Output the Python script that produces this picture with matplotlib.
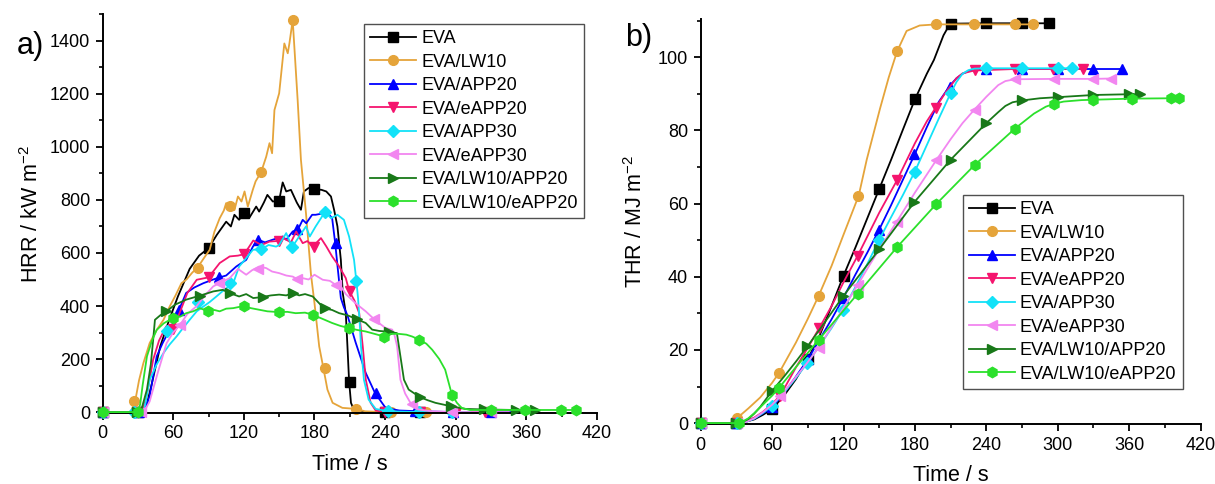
import matplotlib.pyplot as plt
from matplotlib.lines import Line2D
from matplotlib.ticker import MultipleLocator

plt.rcParams['font.family'] = ['Liberation Sans', 'DejaVu Sans']
plt.rcParams['mathtext.fontset'] = 'custom'
plt.rcParams['mathtext.rm'] = 'Liberation Sans'
plt.rcParams['mathtext.default'] = 'regular'

labels = ['EVA', 'EVA/LW10', 'EVA/APP20', 'EVA/eAPP20', 'EVA/APP30',
          'EVA/eAPP30', 'EVA/LW10/APP20', 'EVA/LW10/eAPP20']
colors = ['#000000', '#E5A43A', '#0000FF', '#F5146E', '#12E2F8',
          '#F286F0', '#187818', '#2BE02B']
markers = ['s', 'o', '^', 'v', 'D', '<', '>', 'h']
msizes = [6.5, 7, 7.5, 7.5, 6, 7.5, 7.5, 7.5]

# ---------------- HRR (kW m-2) vs time (s) ----------------
hrr_t_eva = [0, 33, 36, 42, 49, 56, 64, 74, 82, 90, 97, 105, 109, 112, 116, 120, 125, 130.5, 133, 137, 140,
             144.6, 150, 153, 156, 160, 165, 168.5, 171, 175, 180, 186, 190, 194, 196.7, 199.5, 202.4, 204,
             206.6, 208, 209.4, 211, 214, 220, 240, 270, 295]
hrr_eva = [0, 0, 0, 110, 248, 340, 436, 540, 590, 618, 668, 718, 700, 744, 725, 750, 735, 775, 756, 790, 819,
           794, 798, 866, 832, 838, 790, 763, 832, 845, 841, 838, 832, 813, 762, 700, 574, 449,
           373, 248, 116, 35, 3, 0, 0, 0, 0]

hrr_t_lw10 = [0, 24, 27.7, 31, 34.7, 40, 46, 51.8, 57, 62, 67, 71.3, 76, 81, 86, 91, 95, 99.5, 103, 105, 108,
              112, 115, 118, 120.6, 123.4, 127.6, 130, 134.7, 139, 141.8, 144, 146, 150, 154.4, 157.3, 158.7,
              161.5, 165.7, 168.5, 172.8, 177, 180, 184, 187.7, 191, 195.4, 203.7, 215.5, 223, 240, 270, 279]
hrr_lw10 = [0, 0, 41, 120, 185, 260, 310, 348, 398, 440, 486, 500, 525, 547, 580, 612, 680, 731, 760, 788, 779,
            762, 813, 794, 832, 775, 838, 870, 905, 963, 1014, 976, 1139, 1202, 1390, 1353, 1390,
            1478, 1177, 951, 749, 520, 411, 248, 163, 85, 35, 16, 12, 3, 0, 0, 0]

hrr_t_app20 = [0, 35, 40, 46, 51, 57, 64.4, 71, 78, 85.6, 94, 99.5, 105, 113.6, 122, 127.7, 132, 138, 144.5,
               153, 156, 161.5, 166, 170, 173, 178, 181, 188, 192.5, 195, 197.6, 199.6, 202.4, 205, 208,
               215, 223.5, 231.4, 240.4, 252, 270, 300, 330, 355]
hrr_app20 = [0, 0, 60, 210, 260, 310, 380, 449, 470, 486, 500, 508, 515, 549, 574, 624, 650, 640, 650,
             662, 650, 681, 689, 725, 712, 744, 744, 750, 744, 731, 637, 549, 430, 395, 365,
             262, 148, 72, 16, 6, 3, 0, 0, 0]

hrr_t_eapp20 = [0, 33, 37, 43, 48, 54, 60, 66, 72, 80, 90, 99.5, 108, 115, 120, 124, 128, 135, 141.8, 148,
                152, 156, 160, 164.5, 167, 170, 174, 178.5, 182, 185.5, 190, 195, 201, 206.6, 209.4, 214,
                218, 221, 223.6, 227.7, 232, 240, 270, 300, 325]
hrr_eapp20 = [0, 0, 50, 198, 270, 323, 315, 380, 449, 499, 508, 562, 587, 590, 595, 620, 647, 630, 643, 645,
              660, 650, 640, 681, 660, 637, 645, 624, 640, 656, 625, 587, 549, 505, 458, 420,
              373, 248, 122, 35, 6, 0, 0, 0, 0]

hrr_t_app30 = [0, 35, 40, 46, 51.8, 57, 63, 68, 74, 80, 85.6, 91, 96.7, 103, 111, 116, 121, 127.7, 134.7,
               141, 147.4, 150, 156, 161, 167, 172.8, 176, 181, 185.5, 189, 194, 199.5, 205, 209.4, 213.6,
               215.6, 217, 218.5, 219.5, 222, 226, 232, 242.7, 270, 300, 312]
hrr_app30 = [0, 0, 122, 180, 223, 255, 286, 315, 348, 380, 398, 415, 436, 460, 486, 549, 575, 612, 614,
             630, 624, 630, 675, 622, 662, 700, 662, 700, 731, 756, 731, 744, 725, 662, 574,
             493, 430, 330, 248, 122, 47, 12, 3, 0, 0, 0]

hrr_t_eapp30 = [0, 35, 40, 47, 54.4, 60, 65.7, 72, 80, 87, 94, 101, 108, 115, 122, 127, 133, 139, 144, 150,
                156, 161.5, 166, 170, 175, 180, 187, 193, 198, 203, 206.6, 215, 223.5, 230.5, 235, 240.4,
                246, 248, 250.2, 253, 257, 261.5, 268, 280, 300, 330, 345]
hrr_eapp30 = [0, 0, 40, 150, 260, 300, 328, 370, 400, 440, 474, 490, 505, 540, 518, 535, 549, 543, 530, 524,
              515, 511, 500, 505, 500, 518, 499, 495, 480, 470, 445, 410, 380, 351, 335, 317,
              311, 290, 248, 122, 70, 35, 10, 3, 0, 0, 0]

hrr_t_lw10app20 = [0, 30, 33, 37.7, 41, 43, 44.5, 49, 54.4, 61.5, 71, 82.6, 94, 102, 108, 116, 122, 128, 136,
                   143, 150, 156, 161.5, 167, 172, 178.5, 183, 188, 195, 201, 208, 215.7, 223.5, 229, 235,
                   240.4, 246, 250, 253, 256, 260, 265, 270, 276, 282.7, 296, 308, 325, 350, 370]
hrr_lw10app20 = [0, 0, 10, 85, 180, 273, 348, 365, 380, 405, 424, 439, 455, 461, 449, 436, 445, 430, 434,
                 440, 443, 440, 449, 440, 445, 436, 415, 392, 385, 373, 365, 351, 336, 311, 306,
                 304, 300, 298, 210, 122, 85, 70, 56, 45, 35, 22, 12, 10, 8, 8]

hrr_t_lw10eapp20 = [0, 30, 32, 34, 37.7, 42, 46, 52, 60, 66, 71, 77, 82.6, 89.6, 95, 99.5, 105, 111, 119.8,
                    126, 133, 140, 150, 157, 164, 172, 178.5, 185, 195, 202, 209.4, 216, 223.5, 231, 239,
                    245, 251.6, 258, 263, 269, 275, 280, 286, 291, 296.7, 301, 305, 312, 330, 360, 390, 402]
hrr_lw10eapp20 = [0, 0, 30, 100, 210, 270, 310, 335, 355, 360, 373, 380, 392, 380, 385, 380, 390, 392, 400,
                  392, 386, 380, 377, 378, 373, 375, 367, 355, 336, 325, 317, 310, 304, 295, 285,
                  295, 295, 292, 285, 273, 258, 235, 200, 160, 66, 35, 16, 8, 8, 8, 8, 8]

# marker positions read on the HRR curves
hrr_mt_eva = [0, 30, 90, 120, 150, 180, 210, 240, 270]
hrr_m_eva = [0, 0, 620, 752, 796, 842, 115, 0, 0]
hrr_mt_lw10 = [0, 26.7, 80.7, 108, 135, 161.5, 188.6, 215.6, 245, 275]
hrr_m_lw10 = [0, 40, 545, 779, 905, 1478, 165, 12, 0, 0]
hrr_mt_app20 = [0, 31, 65, 99, 132, 165, 198, 232, 265, 298, 330]
hrr_m_app20 = [0, 0, 386, 510, 650, 689, 639, 72, 3, 0, 0]
hrr_mt_eapp20 = [0, 30, 60, 90, 120, 150, 180, 210, 240, 270, 300, 325]
hrr_m_eapp20 = [0, 0, 313, 508, 595, 645, 622, 457, 0, 0, 0, 0]
hrr_mt_app30 = [0, 27, 54.4, 81.4, 108, 134.7, 161, 189, 215.6, 242.7, 269, 297]
hrr_m_app30 = [0, 0, 304, 417, 486, 614, 622, 756, 493, 3, 0, 0]
hrr_mt_eapp30 = [0, 33, 65.7, 99, 132, 165, 198, 230.5, 263, 297, 330]
hrr_m_eapp30 = [0, 0, 328, 485, 540, 500, 480, 351, 30, 0, 0]
hrr_mt_lw10app20 = [0, 29, 54, 82.6, 108, 136, 161.5, 189, 215.7, 243, 270, 296, 324, 351, 367]
hrr_m_lw10app20 = [0, 0, 380, 439, 449, 434, 449, 392, 351, 302, 56, 22, 12, 8, 8]
hrr_mt_lw10eapp20 = [0, 30, 60, 89.6, 119.8, 150, 178.5, 209.4, 239, 269, 296.7, 330, 359, 389, 402]
hrr_m_lw10eapp20 = [0, 0, 355, 380, 400, 377, 367, 317, 285, 273, 66, 8, 8, 8, 8]

# ---------------- THR (MJ m-2) vs time (s) ----------------
thr_t_eva = [0, 30, 36, 45, 52, 60, 70, 80, 90, 100, 110, 120, 130, 140, 150, 160, 170, 180, 190, 196, 204,
             208, 211, 240, 270, 295]
thr_eva = [0, 0, 0.2, 1.0, 2.2, 3.8, 7.5, 12, 17.5, 24, 32, 40.3, 48, 56, 64, 72, 80.3, 88.5, 95.5, 99.3, 106,
           108.3, 109.2, 109.3, 109.3, 109.3]
thr_t_lw10 = [0, 25, 30, 40, 50, 60, 66, 80, 90, 99, 110, 120, 132.8, 139.5, 150.7, 158, 165, 173, 184, 198,
              230, 264, 279]
thr_lw10 = [0, 0, 1.2, 4, 7, 11, 13.8, 22, 28.5, 34.7, 43, 51.5, 62.2, 72, 86, 94.5, 101.6, 107.2, 108.7, 109,
            109, 109, 109]
thr_t_app20 = [0, 30, 36, 45, 52, 60, 70, 80, 90, 100, 110, 120, 130, 140, 150, 160, 170, 180, 190, 200, 210,
               215, 220, 225, 230, 240, 270, 300, 330, 355]
thr_app20 = [0, 0, 0.2, 1.2, 2.6, 4.3, 8.2, 12.7, 17.4, 22.9, 28.4, 34.3, 40.6, 46.6, 52.9, 59.6, 66.6, 73.6,
             80.9, 87.8, 92.5, 94.3, 95.5, 96.2, 96.6, 96.8, 96.8, 96.8, 96.8, 96.8]
thr_t_eapp20 = [0, 30, 36, 45, 52, 60, 67, 80, 90, 100, 110, 120, 132, 140, 150, 165, 180, 190, 198, 205, 210,
                215, 220, 230, 264, 296, 321]
thr_eapp20 = [0, 0, 0.3, 1.5, 3, 5.2, 7.6, 15.2, 20.6, 26.2, 32, 38.5, 45.8, 51, 57.5, 66.4, 76.5, 82.5, 86.5,
              90, 92.2, 94.3, 95.6, 96.4, 96.8, 96.8, 96.8]
thr_t_app30 = [0, 30, 38, 45, 52, 60, 70, 80, 90, 100, 110, 120, 130, 140, 150, 160, 170, 180, 190, 200, 210,
               215, 220, 225, 230, 240, 270, 300, 312]
thr_app30 = [0, 0, 0.3, 1.2, 2.7, 4.7, 8.3, 12.3, 16.6, 21.2, 26, 31.2, 37.2, 43.5, 50.1, 56.3, 62.4, 68.8, 76,
             83.2, 90.2, 93.3, 95.5, 96.5, 96.9, 97, 97, 97, 97]
thr_t_eapp30 = [0, 30, 38, 45, 52, 60, 67, 80, 90, 99, 110, 120, 132, 140, 150, 165, 180, 198, 210, 220, 230,
                240, 250, 256, 264, 297, 330, 345]
thr_eapp30 = [0, 0, 0.3, 1.3, 2.9, 5, 7.4, 12.6, 16.7, 20.6, 26.3, 31.5, 37.8, 42.2, 47.5, 55.2, 63, 71.9,
              77.6, 82, 85.7, 89.2, 92.4, 93.5, 94, 94.1, 94.1, 94.2]
thr_t_lw10app20 = [0, 30, 34, 40, 45, 50, 60, 70, 80, 90, 100, 120, 150, 180, 210, 240, 250, 256, 262, 270,
                   285, 300, 330, 360, 370]
thr_lw10app20 = [0, 0, 0.1, 1.1, 2.6, 4.4, 8.8, 12.7, 16.8, 21.1, 25.6, 34.8, 47.5, 60.6, 72, 82, 85, 86.7,
                 87.7, 88.2, 88.8, 89.1, 89.7, 89.9, 89.9]
thr_t_lw10eapp20 = [0, 30, 34, 40, 45, 50, 60, 66, 80, 99, 132, 165, 198, 230, 264, 280, 290, 297, 305, 320,
                    330, 362, 395, 402]
thr_lw10eapp20 = [0, 0, 0.2, 1.3, 2.7, 4.3, 7.5, 9.7, 15.3, 22.7, 35.4, 48.1, 59.9, 70.5, 80.5, 84.6, 86.5,
                  87.3, 87.9, 88.3, 88.4, 88.7, 88.8, 88.8]

thr_mt_eva = [0, 30, 60, 90, 120, 150, 180, 210, 240, 270, 293]
thr_m_eva = [0, 0, 3.8, 17.5, 40.3, 63.9, 88.5, 109.2, 109.3, 109.3, 109.3]
thr_mt_lw10 = [0, 30.6, 66, 99, 132, 165, 198, 230, 264, 279]
thr_m_lw10 = [0, 1.3, 13.8, 34.7, 62, 101.6, 109, 109, 109, 109]
thr_mt_app20 = [0, 30, 60, 90, 119.3, 149.5, 179.4, 209.6, 240, 270, 300, 330, 354]
thr_m_app20 = [0, 0, 4.3, 17.4, 34.2, 52.8, 73.5, 92, 96.8, 96.8, 96.8, 96.8, 96.8]
thr_mt_eapp20 = [0, 30.6, 66.7, 99.6, 131.8, 164.6, 197.5, 230.3, 264, 296, 321]
thr_m_eapp20 = [0, 0, 7.4, 26, 45.7, 66.4, 86.2, 96.4, 96.8, 96.8, 96.8]
thr_mt_app30 = [0, 30.6, 60, 89.7, 119.3, 149.5, 180, 210.3, 240, 270, 300, 312]
thr_m_app30 = [0, 0, 4.7, 16.5, 31, 50, 68.7, 90.2, 97, 97, 97, 97]
thr_mt_eapp30 = [0, 30.6, 66.7, 99, 131.8, 164.6, 197.5, 230.3, 263.9, 296.7, 329.6, 344.4]
thr_m_eapp30 = [0, 0, 7.4, 20.6, 37.8, 55.1, 71.9, 85.7, 94, 94.1, 94.1, 94.2]
thr_mt_lw10app20 = [0, 30, 60, 89.7, 119.3, 149.5, 179.4, 210.3, 240, 270, 300, 330, 360, 369]
thr_m_lw10app20 = [0, 0, 8.8, 21, 34.8, 47.5, 60.5, 72, 82, 88.2, 89.1, 89.7, 89.9, 89.9]
thr_mt_lw10eapp20 = [0, 32.2, 66, 99, 131.8, 164.6, 197.5, 230.3, 263.9, 296.7, 329.6, 362.5, 395.3, 401.9]
thr_m_lw10eapp20 = [0, 0, 9.7, 22.7, 35.4, 48.1, 59.9, 70.5, 80.5, 87.3, 88.4, 88.7, 88.8, 88.8]

hrr_lines = [(hrr_t_eva, hrr_eva), (hrr_t_lw10, hrr_lw10), (hrr_t_app20, hrr_app20),
             (hrr_t_eapp20, hrr_eapp20), (hrr_t_app30, hrr_app30), (hrr_t_eapp30, hrr_eapp30),
             (hrr_t_lw10app20, hrr_lw10app20), (hrr_t_lw10eapp20, hrr_lw10eapp20)]
hrr_marks = [(hrr_mt_eva, hrr_m_eva), (hrr_mt_lw10, hrr_m_lw10), (hrr_mt_app20, hrr_m_app20),
             (hrr_mt_eapp20, hrr_m_eapp20), (hrr_mt_app30, hrr_m_app30), (hrr_mt_eapp30, hrr_m_eapp30),
             (hrr_mt_lw10app20, hrr_m_lw10app20), (hrr_mt_lw10eapp20, hrr_m_lw10eapp20)]
thr_lines = [(thr_t_eva, thr_eva), (thr_t_lw10, thr_lw10), (thr_t_app20, thr_app20),
             (thr_t_eapp20, thr_eapp20), (thr_t_app30, thr_app30), (thr_t_eapp30, thr_eapp30),
             (thr_t_lw10app20, thr_lw10app20), (thr_t_lw10eapp20, thr_lw10eapp20)]
thr_marks = [(thr_mt_eva, thr_m_eva), (thr_mt_lw10, thr_m_lw10), (thr_mt_app20, thr_m_app20),
             (thr_mt_eapp20, thr_m_eapp20), (thr_mt_app30, thr_m_app30), (thr_mt_eapp30, thr_m_eapp30),
             (thr_mt_lw10app20, thr_m_lw10app20), (thr_mt_lw10eapp20, thr_m_lw10eapp20)]

fig = plt.figure(figsize=(12.15, 4.84), dpi=100)
ax1 = fig.add_axes([0.0844, 0.1469, 0.407, 0.8236])
ax2 = fig.add_axes([0.5767, 0.1236, 0.4114, 0.8366])


def draw(ax, lines, marks):
    for i, ((t, v), (mt, mv)) in enumerate(zip(lines, marks)):
        z = 2 + i * 0.1
        ax.plot(t, v, color=colors[i], lw=1.3, zorder=z)
        ax.plot(mt, mv, ls='none', marker=markers[i], ms=msizes[i], color=colors[i],
                mec=colors[i], zorder=z + 0.05, clip_on=False)


draw(ax1, hrr_lines, hrr_marks)
draw(ax2, thr_lines, thr_marks)

for ax in (ax1, ax2):
    ax.set_xlim(0, 420)
    ax.xaxis.set_major_locator(MultipleLocator(60))
    ax.xaxis.set_minor_locator(MultipleLocator(30))
    for s in ('top', 'right'):
        ax.spines[s].set_visible(False)
    for s in ('left', 'bottom'):
        ax.spines[s].set_linewidth(1.4)
    ax.tick_params(which='major', direction='out', length=5, width=1.3, labelsize=13, pad=4)
    ax.tick_params(which='minor', direction='out', length=3, width=1.2)
    ax.set_xlabel('Time / s', fontsize=15.5, labelpad=8)

ax1.set_ylim(-3, 1500)
ax1.yaxis.set_major_locator(MultipleLocator(200))
ax1.yaxis.set_minor_locator(MultipleLocator(100))
ax1.set_ylabel('HRR / kW m$^{-2}$', fontsize=15.5, labelpad=5)

ax2.set_ylim(-0.3, 110.4)
ax2.yaxis.set_major_locator(MultipleLocator(20))
ax2.yaxis.set_minor_locator(MultipleLocator(10))
ax2.set_ylabel('THR / MJ m$^{-2}$', fontsize=15.5, labelpad=8)

handles = [Line2D([0], [0], color=colors[i], lw=1.3, marker=markers[i], ms=msizes[i])
           for i in range(len(labels))]
leg_kw = dict(fontsize=13, frameon=True, fancybox=False, framealpha=1, edgecolor='#505050',
              borderpad=0.35, labelspacing=0.36, handlelength=2.5, handletextpad=0.3, borderaxespad=0)
l1 = ax1.legend(handles, labels, loc='upper left', bbox_to_anchor=(0.529, 0.9757), **leg_kw)
l2 = ax2.legend(handles, labels, loc='lower left', bbox_to_anchor=(0.525, 0.087), **leg_kw)
for lg in (l1, l2):
    lg.get_frame().set_linewidth(1.0)

fig.text(0.025, 0.905, 'a)', fontsize=22, ha='center', va='center')
fig.text(0.526, 0.921, 'b)', fontsize=22, ha='center', va='center')

fig.savefig('out.png', dpi=100)
